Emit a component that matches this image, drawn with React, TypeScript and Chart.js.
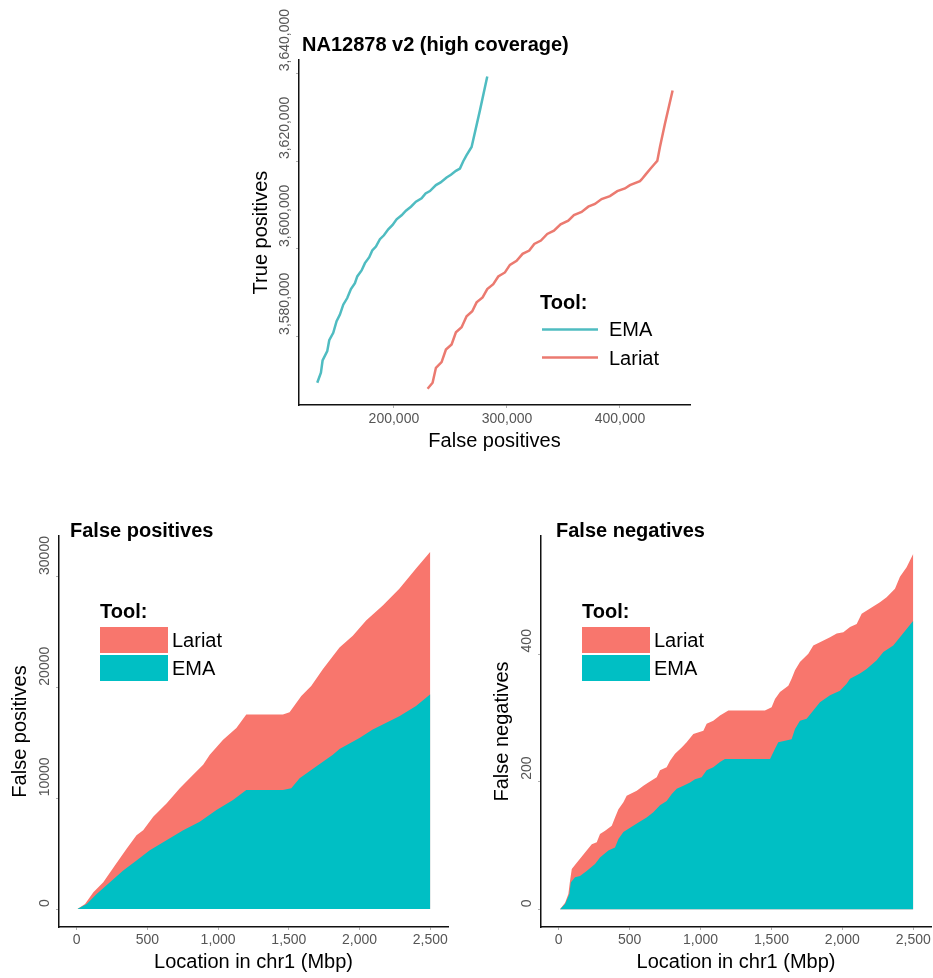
import React, { useEffect, useRef } from 'react';
import { Chart, registerables } from 'chart.js';

Chart.register(...registerables);

// ---------- DATA ----------
// Top chart: true positives vs false positives
const emaRocFp = [132150, 135400, 136870, 141000, 142770, 146310, 149260, 152210, 155160, 158700, 161950, 165490, 167550, 171390, 174340, 178170, 180830, 184070, 187610, 191150, 194990, 198820, 202360, 206790, 210620, 215040, 219470, 224480, 228020, 231860, 237170, 241300, 246610, 250440, 254870, 258410, 261360, 264310, 268730, 276110, 282600];
const emaRocTp = [3569570, 3571840, 3574630, 3576750, 3579240, 3580910, 3583550, 3585060, 3587330, 3588840, 3590880, 3592240, 3593750, 3595110, 3596780, 3598140, 3599650, 3600550, 3602220, 3603120, 3604480, 3605470, 3606750, 3607660, 3608720, 3609620, 3610760, 3611510, 3612640, 3613170, 3614530, 3615140, 3616270, 3616880, 3617780, 3618310, 3619970, 3621340, 3623220, 3631540, 3639240];
const lariatRocFp = [229790, 234220, 237170, 242180, 246020, 251030, 254870, 259880, 264310, 269320, 273160, 278470, 282600, 287910, 292330, 298230, 302660, 308560, 313860, 319760, 324190, 330090, 335690, 341590, 347490, 354280, 359290, 366080, 371980, 377880, 383780, 391150, 397640, 404430, 408850, 417700, 419170, 423010, 427140, 430970, 433040, 435400, 439820, 446610];
const lariatRocTp = [3568210, 3569570, 3572970, 3574260, 3577130, 3578260, 3581060, 3582190, 3584680, 3585820, 3587860, 3588990, 3590880, 3592010, 3593750, 3594660, 3596400, 3597300, 3598890, 3599650, 3601160, 3601910, 3603430, 3604180, 3605620, 3606450, 3607730, 3608410, 3609620, 3610230, 3611360, 3612040, 3613170, 3613780, 3614530, 3615440, 3615820, 3617030, 3618310, 3619450, 3620050, 3623220, 3628510, 3636070];
const rocFpTicks = [200000, 300000, 400000];
const rocTpTicks = [3580000, 3600000, 3620000, 3640000];

// Bottom-left: cumulative false positives along chr1 (Mbp)
const fpLariatPos = [5, 59, 118, 188, 270, 353, 423, 470, 541, 635, 729, 811, 894, 941, 1035, 1129, 1199, 1458, 1505, 1588, 1658, 1740, 1858, 1952, 2046, 2164, 2281, 2399, 2500];
const fpLariatVal = [0, 455, 1515, 2424, 3939, 5455, 6667, 7121, 8333, 9545, 10909, 11970, 13030, 13939, 15303, 16364, 17576, 17576, 17788, 19242, 20152, 21667, 23636, 24697, 26061, 27424, 28939, 30758, 32273];
const fpEmaPos = [5, 71, 141, 235, 329, 423, 517, 635, 753, 870, 988, 1105, 1199, 1458, 1517, 1576, 1693, 1811, 1858, 1999, 2093, 2281, 2399, 2500];
const fpEmaVal = [0, 455, 1364, 2424, 3485, 4394, 5303, 6212, 7121, 7879, 8939, 9848, 10758, 10758, 10909, 11818, 12879, 13939, 14455, 15455, 16212, 17424, 18333, 19394];
const fpTicks = [0, 10000, 20000, 30000];

// Bottom-right: cumulative false negatives along chr1 (Mbp)
const fnLariatPos = [9, 45, 68, 80, 92, 127, 150, 197, 233, 268, 291, 327, 374, 397, 421, 456, 479, 550, 597, 632, 691, 714, 761, 785, 820, 867, 902, 949, 1020, 1043, 1090, 1137, 1196, 1454, 1501, 1525, 1560, 1619, 1642, 1666, 1701, 1760, 1795, 1842, 1913, 1960, 2007, 2054, 2101, 2136, 2195, 2265, 2312, 2371, 2406, 2453, 2500];
const fnLariatVal = [0, 10, 24, 45, 63, 73, 79, 92, 102, 105, 118, 123, 131, 144, 157, 168, 178, 186, 194, 199, 207, 218, 223, 233, 244, 254, 262, 275, 280, 291, 296, 304, 312, 312, 317, 330, 341, 351, 362, 375, 388, 401, 414, 419, 427, 433, 435, 443, 448, 464, 472, 482, 490, 503, 522, 537, 558];
const fnEmaPos = [9, 45, 75, 85, 115, 150, 197, 256, 291, 350, 397, 421, 456, 503, 562, 620, 667, 714, 761, 797, 832, 879, 926, 961, 1008, 1043, 1090, 1137, 1172, 1490, 1525, 1548, 1642, 1666, 1701, 1748, 1795, 1842, 1913, 1983, 2030, 2054, 2124, 2171, 2242, 2289, 2359, 2406, 2453, 2500];
const fnEmaVal = [0, 8, 24, 42, 50, 52, 60, 71, 81, 92, 97, 110, 121, 128, 136, 144, 152, 163, 170, 181, 189, 194, 199, 204, 207, 218, 223, 231, 236, 236, 252, 262, 267, 283, 296, 299, 312, 325, 336, 343, 354, 362, 370, 377, 391, 404, 414, 427, 440, 453];
const fnTicks = [0, 200, 400];

const locationTicks = [0, 500, 1000, 1500, 2000, 2500];
const toolLabels = ['EMA', 'Lariat'];

// ---------- STYLE ----------
const FONT = 'Liberation Sans';
const EMA_AREA = '#00BFC4';
const LARIAT_AREA = '#F8766D';
const EMA_LINE = '#4FBCC1';
const LARIAT_LINE = '#EB7A70';
const TICK_COLOR = '#555555';

const zip = (xs: number[], ys: number[]) => xs.map((x, i) => ({ x, y: ys[i] }));
const comma = (v: number) => Number(v).toLocaleString('en-US');
const plain = (v: number) => String(v);

type LegendItem = { label: string; color: string; kind: 'line' | 'box'; x1: number; x2: number; y1: number; y2: number; tx: number; ty: number };
type OverlaySpec = {
  title: string; titleX: number; titleY: number;
  legendX: number; legendY: number;
  items: LegendItem[];
  yGap: number;
  yFormat: (v: number) => string;
};

function overlayPlugin(spec: OverlaySpec) {
  return {
    id: 'overlay',
    afterDraw(chart: any) {
      const ctx: CanvasRenderingContext2D = chart.ctx;
      const ys = chart.scales.y;
      ctx.save();
      // rotated y tick labels, starting at tick and reading upward
      ctx.fillStyle = TICK_COLOR;
      ctx.font = `14px "${FONT}"`;
      ys.ticks.forEach((t: any) => {
        const py = ys.getPixelForValue(t.value);
        ctx.save();
        ctx.translate(chart.chartArea.left - spec.yGap, py);
        ctx.rotate(-Math.PI / 2);
        ctx.textAlign = 'left';
        ctx.textBaseline = 'middle';
        ctx.fillText(spec.yFormat(t.value), 2, 0);
        ctx.restore();
      });
      // title
      ctx.fillStyle = '#000';
      ctx.textAlign = 'left';
      ctx.textBaseline = 'middle';
      ctx.font = `bold 20px "${FONT}"`;
      ctx.fillText(spec.title, spec.titleX, spec.titleY);
      // legend
      ctx.fillText('Tool:', spec.legendX, spec.legendY);
      ctx.font = `20px "${FONT}"`;
      spec.items.forEach((it) => {
        if (it.kind === 'line') {
          ctx.strokeStyle = it.color;
          ctx.lineWidth = 2.5;
          ctx.beginPath();
          ctx.moveTo(it.x1, it.y1);
          ctx.lineTo(it.x2, it.y1);
          ctx.stroke();
        } else {
          ctx.fillStyle = it.color;
          ctx.fillRect(it.x1, it.y1, it.x2 - it.x1, it.y2 - it.y1);
        }
        ctx.fillStyle = '#000';
        ctx.fillText(it.label, it.tx, it.ty);
      });
      ctx.restore();
    },
  };
}

const fixedTicks = (values: number[]) => (s: any) => { s.ticks = values.map((v) => ({ value: v })); };

function xAxis(min: number, max: number, tickValues: number[], title: string, height: number, titlePadBottom: number, tickPad: number) {
  return {
    type: 'linear',
    position: 'bottom',
    min, max, bounds: 'data',
    grid: { display: true, drawOnChartArea: false, drawTicks: true, tickLength: 3, color: '#b0b0b0' },
    border: { display: true, color: '#111', width: 1.5 },
    ticks: { padding: tickPad, color: TICK_COLOR, font: { family: FONT, size: 14 }, maxRotation: 0, autoSkip: false, callback: (v: any) => comma(v) },
    title: { display: true, text: title, color: '#000', font: { family: FONT, size: 20 }, padding: { top: 0, bottom: titlePadBottom } },
    afterBuildTicks: fixedTicks(tickValues),
    afterFit: (s: any) => { s.height = height; },
  };
}

function yAxis(min: number, max: number, tickValues: number[], title: string, width: number, titlePadTop: number) {
  return {
    type: 'linear',
    position: 'left',
    min, max, bounds: 'data',
    grid: { display: true, drawOnChartArea: false, drawTicks: true, tickLength: 3, color: '#b0b0b0' },
    border: { display: true, color: '#111', width: 1.5 },
    ticks: { display: false },
    title: { display: true, text: title, color: '#000', font: { family: FONT, size: 20 }, padding: { top: titlePadTop, bottom: 0 } },
    afterBuildTicks: fixedTicks(tickValues),
    afterFit: (s: any) => { s.width = width; },
  };
}

function baseOptions(padding: any, scales: any) {
  return {
    responsive: false,
    maintainAspectRatio: false,
    animation: false,
    devicePixelRatio: 1,
    layout: { padding },
    plugins: { legend: { display: false }, title: { display: false }, tooltip: { enabled: false } },
    scales,
  };
}

function topConfig() {
  return {
    type: 'line',
    data: {
      datasets: [
        { label: toolLabels[0], data: zip(emaRocFp, emaRocTp), borderColor: EMA_LINE, borderWidth: 2.5, pointRadius: 0, fill: false, tension: 0 },
        { label: toolLabels[1], data: zip(lariatRocFp, lariatRocTp), borderColor: LARIAT_LINE, borderWidth: 2.5, pointRadius: 0, fill: false, tension: 0 },
      ],
    },
    options: baseOptions({ top: 60, left: 0, right: 10, bottom: 0 }, {
      x: xAxis(116000, 462000, rocFpTicks, 'False positives', 55, 7, 3),
      y: yAxis(3564500, 3643000, rocTpTicks, 'True positives', 59, 9),
    }),
    plugins: [overlayPlugin({
      title: 'NA12878 v2 (high coverage)', titleX: 62, titleY: 45,
      legendX: 300, legendY: 303,
      items: [
        { label: toolLabels[0], color: EMA_LINE, kind: 'line', x1: 302, x2: 358, y1: 329.5, y2: 329.5, tx: 369, ty: 330.5 },
        { label: toolLabels[1], color: LARIAT_LINE, kind: 'line', x1: 302, x2: 358, y1: 357.5, y2: 357.5, tx: 369, ty: 359.5 },
      ],
      yGap: 14, yFormat: comma,
    })],
  };
}

function areaConfig(ema: { x: number; y: number }[], lariat: { x: number; y: number }[], yMin: number, yMax: number, yTicks: number[], yTitle: string, yWidth: number, yTitlePad: number, padRight: number, title: string, titleX: number, legendX: number) {
  return {
    type: 'line',
    data: {
      datasets: [
        { label: toolLabels[0], data: ema, borderWidth: 0, borderColor: 'rgba(0,0,0,0)', backgroundColor: EMA_AREA, pointRadius: 0, fill: 'origin', tension: 0 },
        { label: toolLabels[1], data: lariat, borderWidth: 0, borderColor: 'rgba(0,0,0,0)', backgroundColor: LARIAT_AREA, pointRadius: 0, fill: 'origin', tension: 0 },
      ],
    },
    options: baseOptions({ top: 31, left: 0, right: padRight, bottom: 0 }, {
      x: xAxis(-125, 2625, locationTicks, 'Location in chr1 (Mbp)', 51, 4, 2),
      y: yAxis(yMin, yMax, yTicks, yTitle, yWidth, yTitlePad),
    }),
    plugins: [overlayPlugin({
      title, titleX, titleY: 26,
      legendX, legendY: 107,
      items: [
        { label: toolLabels[1], color: LARIAT_AREA, kind: 'box', x1: legendX, x2: legendX + 68, y1: 122, y2: 148, tx: legendX + 72, ty: 136.5 },
        { label: toolLabels[0], color: EMA_AREA, kind: 'box', x1: legendX, x2: legendX + 68, y1: 150, y2: 176, tx: legendX + 72, ty: 164 },
      ],
      yGap: 14, yFormat: plain,
    })],
  };
}

function ChartBox({ left, top, width, height, build }: { left: number; top: number; width: number; height: number; build: () => any }) {
  const ref = useRef<HTMLCanvasElement>(null);
  useEffect(() => {
    const chart = new Chart(ref.current as HTMLCanvasElement, build());
    return () => chart.destroy();
  }, []);
  return <canvas ref={ref} width={width} height={height} style={{ position: 'absolute', left, top, width, height }} />;
}

export default function App() {
  return (
    <div style={{ position: 'absolute', left: 0, top: 0, width: 933, height: 978, background: '#fff', overflow: 'hidden' }}>
      <ChartBox left={240} top={0} width={460} height={460} build={topConfig} />
      <ChartBox left={0} top={505} width={465} height={473}
        build={() => areaConfig(zip(fpEmaPos, fpEmaVal), zip(fpLariatPos, fpLariatVal), -1620, 33700, fpTicks, 'False positives', 59, 8, 17, 'False positives', 70, 100)} />
      <ChartBox left={480} top={505} width={453} height={473}
        build={() => areaConfig(zip(fnEmaPos, fnEmaVal), zip(fnLariatPos, fnLariatVal), -28, 586, fnTicks, 'False negatives', 61, 10, 2, 'False negatives', 76, 102)} />
    </div>
  );
}
